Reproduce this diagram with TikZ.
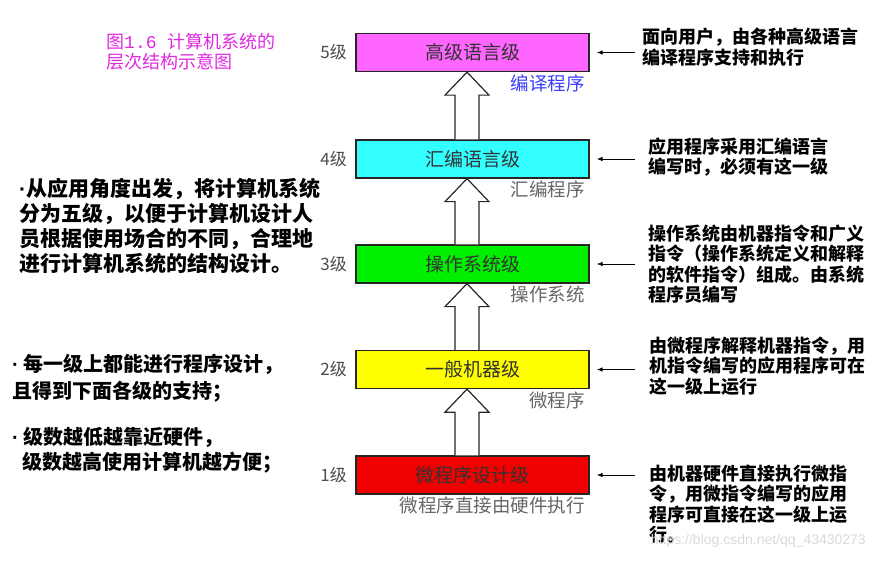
\documentclass[tikz,border=0pt]{standalone}
\usepackage{fontspec}
\setmainfont{Noto Sans CJK SC}
\newfontfamily\urlfont{Liberation Sans}
\newfontfamily\digitfont{Liberation Mono}
\newcommand{\pdot}{{\urlfont\textperiodcentered}}
\usetikzlibrary{arrows.meta,calc}
\definecolor{lvmag}{RGB}{255,102,255}
\definecolor{lvcyan}{RGB}{51,255,255}
\definecolor{lvgreen}{RGB}{0,240,0}
\definecolor{lvyellow}{RGB}{255,255,0}
\definecolor{lvred}{RGB}{240,0,0}
\definecolor{titlemag}{RGB}{225,40,225}
\definecolor{toolblue}{RGB}{60,60,255}
\begin{document}
\begin{tikzpicture}[x=1pt, y=-1pt,
  level/.style={draw=black!85, line width=1.3pt, minimum width=233pt, minimum height=38pt, inner sep=0pt, text=black!80, font=\fontsize{19}{22}\selectfont},
  tag/.style={anchor=east, inner sep=0pt, text=black!70, font=\fontsize{17}{20}\selectfont},
  tool/.style={anchor=north east, inner sep=1pt, text=black!60, font=\fontsize{18.5}{20}\selectfont},
  note/.style={anchor=west, align=left, inner sep=0pt, font=\bfseries\fontsize{18}{20.5}\selectfont},
  point/.style={anchor=west, align=left, inner sep=0pt, font=\bfseries\fontsize{21}{25}\selectfont},
  hollow/.style={draw=black!85, fill=white, line width=1.2pt},
  pointer/.style={-{Latex[length=6pt,width=4.5pt]}, line width=0.9pt, shorten >=7pt}]
  \useasboundingbox (0,0) rectangle (873,561);
  % title
  \node[anchor=west, align=left, inner sep=0pt, text=titlemag, font=\fontsize{18}{20}\selectfont] (title) at (106,52) {图{\digitfont 1.6 }计算机系统的\\层次结构示意图};
  % levels
  \node[level, fill=lvmag] (lv5) at (472.5,52.5) {高级语言级};
  \node[level, fill=lvcyan] (lv4) at (472.5,159) {汇编语言级};
  \node[level, fill=lvgreen] (lv3) at (472.5,264) {操作系统级};
  \node[level, fill=lvyellow] (lv2) at (472.5,369.5) {一般机器级};
  \node[level, fill=lvred] (lv1) at (472.5,475) {微程序设计级};
  \node[tag] (t5) at (347,52.5) {5级};
  \node[tag] (t4) at (347,159) {4级};
  \node[tag] (t3) at (347,264) {3级};
  \node[tag] (t2) at (347,369.5) {2级};
  \node[tag] (t1) at (347,475) {1级};
  \node[tool, text=toolblue] (c5) at (586,74) {编译程序};
  \node[tool] (c4) at (586,180) {汇编程序};
  \node[tool] (c3) at (586,285) {操作系统};
  \node[tool] (c2) at (586,390.5) {微程序};
  \node[tool] (c1) at (586,496) {微程序直接由硬件执行};
  \foreach \lo/\hi in {lv1/lv2, lv2/lv3, lv3/lv4, lv4/lv5}
    \draw[hollow] ($(\lo.north)+(-17.5,0)$) -- ($(\hi.south)+(-17.5,23)$) -- ($(\hi.south)+(-27.5,23)$)
      -- ($(\hi.south)+(-5.5,0)$) -- ($(\hi.south)+(16.5,23)$) -- ($(\hi.south)+(6.5,23)$) -- ($(\lo.north)+(6.5,0)$);
  % notes on the right
  \node[note] (n5) at (642,47) {面向用户，由各种高级语言\\编译程序支持和执行};
  \node[note] (n4) at (648,157) {应用程序采用汇编语言\\编写时，必须有这一级};
  \node[note] (n3) at (648,264) {操作系统由机器指令和广义\\指令（操作系统定义和解释\\的软件指令）组成。由系统\\程序员编写};
  \node[note] (n2) at (649,366) {由微程序解释机器指令，用\\机指令编写的应用程序可在\\这一级上运行};
  \node[note] (n1) at (649,504) {由机器硬件直接执行微指\\令，用微指令编写的应用\\程序可直接在这一级上运\\行。};
  \foreach \lv in {lv5, lv4, lv3, lv2, lv1}
    \draw[pointer] ($(\lv.east)+(45,0)$) -- (\lv.east);
  % points on the left
  \node[point] (p1) at (19,225.5) {\pdot 从应用角度出发，将计算机系统\\分为五级，以便于计算机设计人\\员根据使用场合的不同，合理地\\进行计算机系统的结构设计。};
  \node[point, font=\bfseries\fontsize{20}{27}\selectfont] (p2) at (12,378.5) {\pdot\hspace{5pt}每一级上都能进行程序设计，\\且得到下面各级的支持；};
  \node[point, font=\bfseries\fontsize{20}{25}\selectfont] (p3) at (12,450.5) {\pdot\hspace{5pt}级数越低越靠近硬件，\\\hspace*{10pt}级数越高使用计算机越方便；};
  \node[anchor=east, inner sep=0pt, text=black!15, font=\urlfont\fontsize{14}{16}\selectfont] (mark) at (866,541) {https://blog.csdn.net/qq\_43430273};
\end{tikzpicture}
\end{document}
